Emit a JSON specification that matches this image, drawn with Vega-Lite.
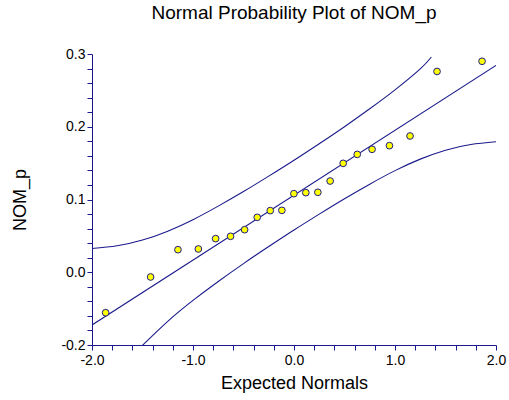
{
  "$schema": "https://vega.github.io/schema/vega-lite/v6.json",
  "width": 404,
  "height": 291,
  "autosize": "none",
  "padding": {"left": 92, "top": 54, "right": 13, "bottom": 55},
  "background": "white",
  "view": {"stroke": null},
  "config": {"font": "Liberation Sans"},
  "title": {
    "text": "Normal Probability Plot of NOM_p",
    "font": "Liberation Sans",
    "fontSize": 19,
    "fontWeight": "normal",
    "color": "black",
    "anchor": "middle",
    "frame": "group",
    "baseline": "alphabetic",
    "offset": 9
  },
  "datasets": {
    "points": [
      {"x": -1.865, "y": -0.0556},
      {"x": -1.420, "y": -0.0065},
      {"x": -1.149, "y": 0.0310},
      {"x": -0.947, "y": 0.0320},
      {"x": -0.776, "y": 0.0462},
      {"x": -0.628, "y": 0.0494},
      {"x": -0.489, "y": 0.0585},
      {"x": -0.364, "y": 0.0755},
      {"x": -0.235, "y": 0.0847},
      {"x": -0.120, "y": 0.0851},
      {"x": -0.001, "y": 0.1080},
      {"x": 0.117, "y": 0.1094},
      {"x": 0.236, "y": 0.1099},
      {"x": 0.358, "y": 0.1254},
      {"x": 0.487, "y": 0.1497},
      {"x": 0.626, "y": 0.1620},
      {"x": 0.773, "y": 0.1690},
      {"x": 0.945, "y": 0.1740},
      {"x": 1.149, "y": 0.1873},
      {"x": 1.416, "y": 0.2760},
      {"x": 1.862, "y": 0.2900}
    ],
    "curves": [
      {"curve": "ref", "x": -2.0, "y": -0.0725},
      {"curve": "ref", "x": 2.0, "y": 0.2844},
      {"curve": "upper", "x": -2.0, "y": 0.0326},
      {"curve": "upper", "x": -1.75, "y": 0.0364},
      {"curve": "upper", "x": -1.5, "y": 0.0442},
      {"curve": "upper", "x": -1.25, "y": 0.0565},
      {"curve": "upper", "x": -1.0, "y": 0.0723},
      {"curve": "upper", "x": -0.75, "y": 0.0909},
      {"curve": "upper", "x": -0.5, "y": 0.1109},
      {"curve": "upper", "x": -0.25, "y": 0.1321},
      {"curve": "upper", "x": 0.0, "y": 0.1540},
      {"curve": "upper", "x": 0.25, "y": 0.1767},
      {"curve": "upper", "x": 0.5, "y": 0.2001},
      {"curve": "upper", "x": 0.75, "y": 0.2247},
      {"curve": "upper", "x": 1.0, "y": 0.2507},
      {"curve": "upper", "x": 1.25, "y": 0.2795},
      {"curve": "upper", "x": 1.36, "y": 0.2959},
      {"curve": "lower", "x": -1.55, "y": -0.1072},
      {"curve": "lower", "x": -1.25, "y": -0.0675},
      {"curve": "lower", "x": -1.0, "y": -0.0387},
      {"curve": "lower", "x": -0.75, "y": -0.0127},
      {"curve": "lower", "x": -0.5, "y": 0.0119},
      {"curve": "lower", "x": -0.25, "y": 0.0353},
      {"curve": "lower", "x": 0.0, "y": 0.0580},
      {"curve": "lower", "x": 0.25, "y": 0.0799},
      {"curve": "lower", "x": 0.5, "y": 0.1011},
      {"curve": "lower", "x": 0.75, "y": 0.1211},
      {"curve": "lower", "x": 1.0, "y": 0.1397},
      {"curve": "lower", "x": 1.25, "y": 0.1555},
      {"curve": "lower", "x": 1.5, "y": 0.1678},
      {"curve": "lower", "x": 1.75, "y": 0.1756},
      {"curve": "lower", "x": 2.0, "y": 0.1794}
    ]
  },
  "encoding": {
    "x": {
      "field": "x",
      "type": "quantitative",
      "scale": {"domain": [-2, 2], "nice": false, "zero": false},
      "axis": {
        "title": "Expected Normals",
        "values": [-2, -1.8, -1.6, -1.4, -1.2, -1, -0.8, -0.6, -0.4, -0.2, 0, 0.2, 0.4, 0.6, 0.8, 1, 1.2, 1.4, 1.6, 1.8, 2],
        "labelExpr": "abs(datum.value - round(datum.value)) < 0.001 ? replace(format(datum.value, '.1f'), '\u2212', '-') : ''",
        "grid": false,
        "domainColor": "#1a1a8c",
        "tickColor": "#1a1a8c",
        "domainWidth": 1,
        "tickWidth": 1,
        "tickSize": 5,
        "labelFont": "Liberation Sans",
        "labelFontSize": 14,
        "labelColor": "black",
        "labelPadding": 3,
        "labelFlush": false,
        "labelOverlap": false,
        "labelBound": false,
        "titleFont": "Liberation Sans",
        "titleFontSize": 18,
        "titleFontWeight": "normal",
        "titleColor": "black",
        "titleBaseline": "alphabetic",
        "titleY": 43
      }
    },
    "y": {
      "field": "y",
      "type": "quantitative",
      "scale": {"domain": [-0.1, 0.3], "nice": false, "zero": false},
      "axis": {
        "title": "NOM_p",
        "values": [-0.1, -0.08, -0.06, -0.04, -0.02, 0, 0.02, 0.04, 0.06, 0.08, 0.1, 0.12, 0.14, 0.16, 0.18, 0.2, 0.22, 0.24, 0.26, 0.28, 0.3],
        "labelExpr": "datum.value < -0.09 ? '-0.2' : (abs(datum.value * 10 - round(datum.value * 10)) < 0.001 ? replace(format(datum.value, '.1f'), '\u2212', '-') : '')",
        "grid": false,
        "domainColor": "#1a1a8c",
        "tickColor": "#1a1a8c",
        "domainWidth": 1,
        "tickWidth": 1,
        "tickSize": 5,
        "labelFont": "Liberation Sans",
        "labelFontSize": 14,
        "labelColor": "black",
        "labelPadding": 2,
        "labelFlush": false,
        "labelOverlap": false,
        "labelBound": false,
        "titleFont": "Liberation Sans",
        "titleFontSize": 18,
        "titleFontWeight": "normal",
        "titleColor": "black",
        "titleBaseline": "alphabetic",
        "titleX": -67,
        "titleY": 145.5
      }
    }
  },
  "layer": [
    {
      "data": {"name": "curves"},
      "mark": {"type": "line", "color": "#1a1a8c", "strokeWidth": 1.1, "clip": true, "interpolate": "natural"},
      "encoding": {"detail": {"field": "curve", "type": "nominal"}}
    },
    {
      "data": {"name": "points"},
      "mark": {"type": "point", "shape": "circle", "filled": true, "fill": "#ffff00", "stroke": "#1a1a8c", "strokeWidth": 1, "size": 45, "opacity": 1}
    }
  ]
}
